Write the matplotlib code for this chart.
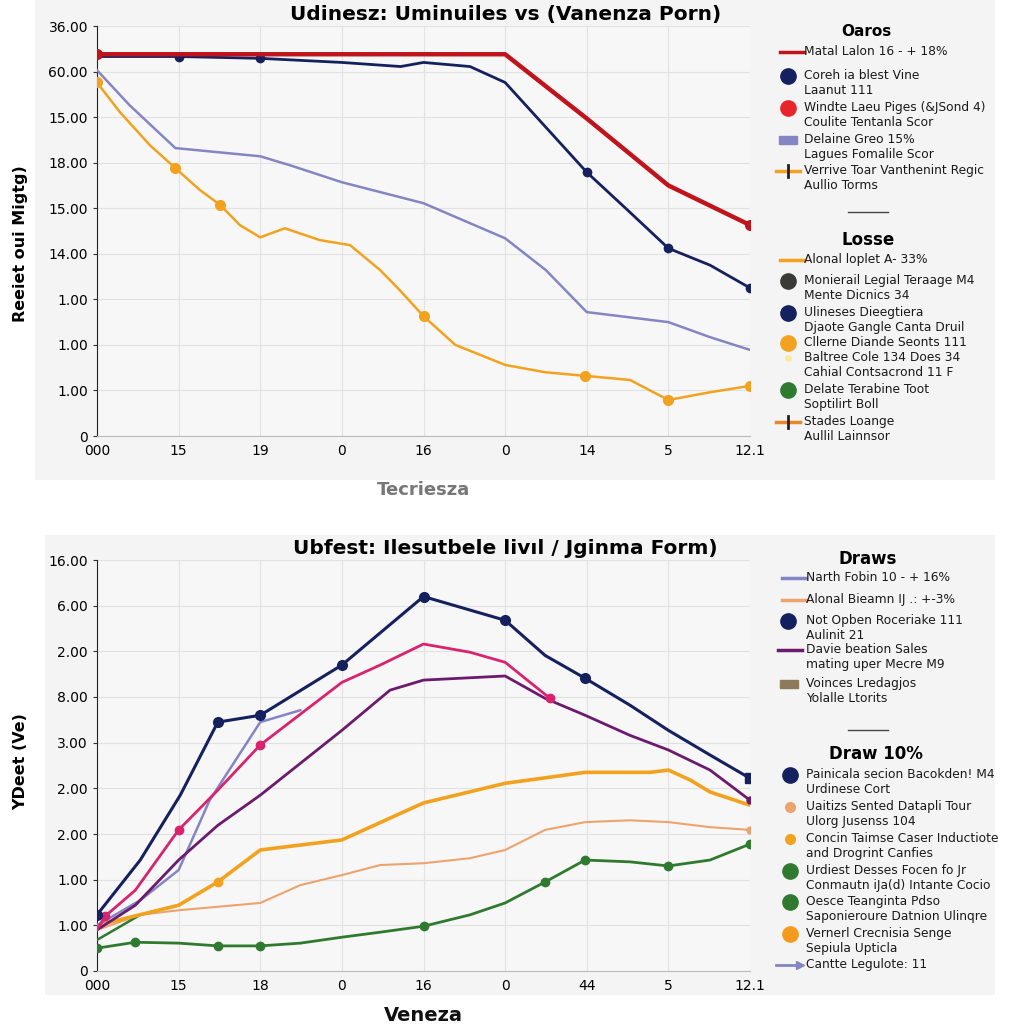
import matplotlib
matplotlib.use("Agg")
import matplotlib.pyplot as plt
from matplotlib.lines import Line2D
from matplotlib.patches import Rectangle

# ---- top panel data (positions on an index grid) ----
top_title = "Udinesz: Uminuiles vs (Vanenza Porn)"
top_xticks = ["000", "15", "19", "0", "16", "0", "14", "5", "12.1"]
top_yticks = ["0", "1.00", "1.00", "1.00", "14.00", "15.00", "18.00", "15.00", "60.00", "36.00"]
top_xlabel = "Tecriesza"
top_ylabel = "Reeiet oui Migtg)"

red_x = [0, 5, 6, 7, 8]
red_y = [8.38, 8.38, 6.97, 5.5, 4.63]
navy_x = [0, 1, 2, 3, 3.72, 4, 4.57, 5, 6, 6.5, 7, 7.51, 8]
navy_y = [8.33, 8.33, 8.29, 8.2, 8.11, 8.2, 8.11, 7.76, 5.79, 4.96, 4.12, 3.75, 3.25]
lav_x = [0, 0.4, 0.96, 2, 2.37, 3, 4, 5, 5.5, 6, 7, 7.51, 8]
lav_y = [8.03, 7.26, 6.32, 6.14, 5.94, 5.57, 5.11, 4.34, 3.64, 2.72, 2.5, 2.17, 1.89]
org_x = [0, 0.28, 0.65, 0.96, 1.26, 1.51, 1.75, 2.0, 2.3, 2.73, 3.1, 3.47, 3.71,
         4.0, 4.39, 5.0, 5.49, 5.98, 6.29, 6.53, 7.0, 7.51, 8.0]
org_y = [7.76, 7.11, 6.38, 5.88, 5.4, 5.07, 4.63, 4.36, 4.56, 4.3, 4.19, 3.64, 3.2,
         2.63, 2.0, 1.56, 1.4, 1.32, 1.27, 1.23, 0.79, 0.96, 1.1]

# ---- bottom panel data ----
bot_title = "Ubfest: Ilesutbele livıl / Jginma Form)"
bot_xticks = ["000", "15", "18", "0", "16", "0", "44", "5", "12.1"]
bot_yticks = ["0", "1.00", "1.00", "2.00", "2.00", "3.00", "8.00", "2.00", "6.00", "16.00"]
bot_xlabel = "Veneza"
bot_ylabel = "YDeet (Ve)"

bnavy_x = [0, 0.53, 1.02, 1.48, 2, 3, 4, 5, 5.49, 5.98, 6.53, 7, 7.51, 8]
bnavy_y = [1.23, 2.43, 3.85, 5.45, 5.6, 6.7, 8.2, 7.68, 6.91, 6.41, 5.82, 5.27, 4.73, 4.22]
mag_x = [0, 0.1, 0.47, 1, 1.48, 2, 3, 3.47, 4, 4.57, 5, 5.55]
mag_y = [0.9, 1.2, 1.77, 3.09, 3.96, 4.95, 6.32, 6.7, 7.16, 6.98, 6.76, 5.97]
pur_x = [0, 0.47, 1, 1.48, 2, 3, 3.59, 4, 5, 5.49, 5.98, 6.53, 7, 7.51, 8]
pur_y = [0.9, 1.44, 2.43, 3.19, 3.85, 5.27, 6.15, 6.37, 6.46, 5.97, 5.6, 5.16, 4.84, 4.4, 3.74]
blav_x = [0, 0.53, 1, 1.38, 2, 2.49]
blav_y = [1.0, 1.55, 2.21, 3.74, 5.45, 5.71]
borg_x = [0, 1, 1.48, 2, 3, 4, 5, 5.98, 6.78, 7, 7.27, 7.51, 8]
borg_y = [1.0, 1.44, 1.95, 2.65, 2.87, 3.68, 4.11, 4.35, 4.35, 4.4, 4.18, 3.92, 3.63]
lorg_x = [0, 0.53, 1, 2, 2.49, 3, 3.47, 4, 4.57, 5, 5.49, 5.98, 6.53, 7, 7.51, 8]
lorg_y = [0.9, 1.23, 1.33, 1.49, 1.88, 2.1, 2.32, 2.36, 2.47, 2.65, 3.09, 3.26, 3.3, 3.26, 3.15, 3.09]
grn_x = [0, 0.47, 1, 1.48, 2, 2.49, 3, 3.47, 4, 4.57, 5, 5.49, 5.98, 6.53, 7, 7.51, 8]
grn_y = [0.5, 0.63, 0.61, 0.55, 0.55, 0.61, 0.74, 0.85, 0.98, 1.23, 1.49, 1.95, 2.43, 2.39, 2.3, 2.43, 2.78]
grn2_x = [0, 0.53, 1]
grn2_y = [0.68, 1.23, 1.44]

# ---- legend texts ----
top_head1 = "Oaros"
top_items1 = ["Matal Lalon 16 - + 18%",
              "Coreh ia blest Vine\nLaanut 111",
              "Windte Laeu Piges (&JSond 4)\nCoulite Tentanla Scor",
              "Delaine Greo 15%\nLagues Fomalile Scor",
              "Verrive Toar Vanthenint Regic\nAullio Torms"]
top_head2 = "Losse"
top_items2 = ["Alonal loplet A- 33%",
              "Monierail Legial Teraage M4\nMente Dicnics 34",
              "Ulineses Dieegtiera\nDjaote Gangle Canta Druil",
              "Cllerne Diande Seonts 111\nBaltree Cole 134 Does 34\nCahial Contsacrond 11 F",
              "Delate Terabine Toot\nSoptilirt Boll",
              "Stades Loange\nAullil Lainnsor"]
bot_head1 = "Draws"
bot_items1 = ["Narth Fobin 10 - + 16%",
              "Alonal Bieamn IJ .: +-3%",
              "Not Opben Roceriake 111\nAulinit 21",
              "Davie beation Sales\nmating uper Mecre M9",
              "Voinces Lredagjos\nYolalle Ltorits"]
bot_head2 = "Draw 10%"
bot_items2 = ["Painicala secion Bacokden! M4\nUrdinese Cort",
              "Uaitizs Sented Datapli Tour\nUlorg Jusenss 104",
              "Concin Taimse Caser Inductiote\nand Drogrint Canfies",
              "Urdiest Desses Focen fo Jr\nConmautn iJa(d) Intante Cocio",
              "Oesce Teanginta Pdso\nSaponieroure Datnion Ulinqre",
              "Vernerl Crecnisia Senge\nSepiula Upticla",
              "Cantte Legulote: 11"]

NAVY = "#14215e"
RED = "#c0141c"
LAV = "#8585c4"
ORG = "#f2a21e"
MAG = "#d8246e"
PUR = "#6b1a6e"
LORG = "#eda36e"
GRN = "#2f7a2f"

W = H = 1024
fig = plt.figure(figsize=(10.24, 10.24), dpi=100)
fig.patch.set_facecolor("white")
TITLE_FONT = ["Liberation Sans Narrow", "DejaVu Sans"]


def px(x, y):
    return x / W, 1 - y / H


# panel backgrounds
fig.add_artist(Rectangle(px(35, 480), 960 / W, 480 / H, transform=fig.transFigure,
                         facecolor="#f4f4f4", edgecolor="none", zorder=0))
fig.add_artist(Rectangle(px(45, 995), 950 / W, 460 / H, transform=fig.transFigure,
                         facecolor="#f4f4f4", edgecolor="none", zorder=0))


def setup_axes(ax, xt, yt, title, xlabel, ylabel, xlabel_style):
    ax.set_facecolor("#f7f7f7")
    ax.set_xlim(0, 8)
    ax.set_ylim(0, 9)
    ax.set_xticks(range(9))
    ax.set_xticklabels(xt)
    ax.set_yticks(range(10))
    ax.set_yticklabels(yt)
    ax.tick_params(axis="both", labelsize=10, length=3, color="#333333")
    ax.tick_params(axis="x", length=0, pad=6)
    for s in ["top", "right"]:
        ax.spines[s].set_visible(False)
    ax.spines["left"].set_color("#222222")
    ax.spines["bottom"].set_color("#bbbbbb")
    ax.grid(True, color="#e2e2e2", linewidth=0.8)
    ax.set_axisbelow(True)
    ax.set_title(title, fontsize=14.5, fontweight="bold", family=TITLE_FONT, pad=4, x=0.625)
    ax.set_ylabel(ylabel, fontsize=11.5, fontweight="bold")
    ax.set_xlabel(xlabel, **xlabel_style)


# ---- top axes ----
ax1 = fig.add_axes([97 / W, 1 - 436 / H, 653 / W, 410 / H])
setup_axes(ax1, top_xticks, top_yticks, top_title, top_xlabel, top_ylabel,
           dict(fontsize=13, color="#777777", fontweight="bold", labelpad=16))
ax1.yaxis.set_label_coords(-0.105, 0.47)
ax1.plot(lav_x, lav_y, color=LAV, lw=1.8, zorder=3)
ax1.plot(org_x, org_y, color=ORG, lw=1.8, marker="o", ms=7,
         markevery=[0, 3, 5, 13, 17, 20, 22], zorder=4)
ax1.plot(navy_x, navy_y, color=NAVY, lw=2.0, marker="o", ms=6,
         markevery=[1, 2, 8, 10, 12], zorder=5)
ax1.plot(red_x, red_y, color=RED, lw=3.2, marker="o", ms=7, markevery=[0, 4], zorder=6)

# ---- bottom axes ----
ax2 = fig.add_axes([97 / W, 1 - 971 / H, 653 / W, 411 / H])
setup_axes(ax2, bot_xticks, bot_yticks, bot_title, bot_xlabel, bot_ylabel,
           dict(fontsize=14, color="#111111", fontweight="bold", labelpad=9))
ax2.yaxis.set_label_coords(-0.105, 0.51)
ax2.plot(lorg_x, lorg_y, color=LORG, lw=1.5, marker="o", ms=5, markevery=[15], zorder=3)
ax2.plot(grn2_x, grn2_y, color=GRN, lw=1.8, zorder=3)
ax2.plot(grn_x, grn_y, color=GRN, lw=2.0, marker="o", ms=6,
         markevery=[0, 1, 3, 4, 8, 11, 12, 14, 16], zorder=4)
ax2.plot(borg_x, borg_y, color=ORG, lw=2.6, marker="o", ms=6, markevery=[2], zorder=4)
ax2.plot(blav_x, blav_y, color=LAV, lw=1.8, zorder=4)
ax2.plot(pur_x, pur_y, color=PUR, lw=2.0, marker="o", ms=5, markevery=[14], zorder=5)
ax2.plot(mag_x, mag_y, color=MAG, lw=2.0, marker="o", ms=6, markevery=[1, 3, 5, 11], zorder=5)
ax2.plot(bnavy_x, bnavy_y, color=NAVY, lw=2.2, marker="o", ms=7,
         markevery=[0, 3, 4, 5, 6, 7, 9], zorder=6)
ax2.plot([bnavy_x[-1]], [bnavy_y[-1]], color=NAVY, marker="s", ms=7, zorder=7)


# ---- manual legends ----
def handle(kind, color, x, y):
    fx, fy = px(x, y)
    if kind == "line":
        fig.add_artist(Line2D([fx - 12 / W, fx + 12 / W], [fy, fy], color=color, lw=2.5,
                              transform=fig.transFigure))
    elif kind == "cross":
        fig.add_artist(Line2D([fx - 12 / W, fx + 12 / W], [fy, fy], color=color, lw=2.5,
                              transform=fig.transFigure))
        fig.add_artist(Line2D([fx, fx], [fy - 6 / H, fy + 6 / H], color="#222222", lw=2,
                              transform=fig.transFigure))
    elif kind == "rect":
        fig.add_artist(Rectangle((fx - 9 / W, fy - 4 / H), 18 / W, 8 / H, color=color,
                                 transform=fig.transFigure))
    elif kind == "arrow":
        fig.add_artist(Line2D([fx - 14 / W, fx + 10 / W], [fy, fy], color=color, lw=2,
                              marker=">", markevery=[1], ms=6, transform=fig.transFigure))
    else:
        ms = {"dot": 11, "small": 7}[kind]
        fig.add_artist(Line2D([fx], [fy], color=color, marker="o", ms=ms, lw=0,
                              transform=fig.transFigure))


def legend_block(head, hx, hy, items, handles, ys, tx, head_size=11):
    fig.text(hx / W, 1 - hy / H, head, fontsize=head_size, fontweight="bold",
             ha="center", va="center")
    for label, (kind, color, hxp), y in zip(items, handles, ys):
        handle(kind, color, hxp, y)
        fig.text(tx / W, 1 - (y - 7) / H, label, fontsize=8.8, va="top", ha="left",
                 linespacing=1.2, color="#1a1a1a")


top_handles1 = [("line", RED, 792), ("dot", NAVY, 788), ("dot", "#e8262a", 788),
                ("rect", LAV, 788), ("cross", ORG, 788)]
legend_block(top_head1, 866, 32, top_items1, top_handles1, [52, 76, 108, 140, 171], 804)
fig.add_artist(Line2D([848 / W, 888 / W], [1 - 212 / H] * 2, color="#444444", lw=1,
                      transform=fig.transFigure))
top_handles2 = [("line", ORG, 792), ("dot", "#3a3a36", 788), ("dot", NAVY, 788),
                ("dot", ORG, 788), ("dot", GRN, 788), ("cross", "#e8862a", 788)]
legend_block(top_head2, 868, 240, top_items2, top_handles2,
             [260, 281, 313, 343, 390, 422], 804, head_size=12)
fig.add_artist(Line2D([788 / W], [1 - 358 / H], color="#fbe9a0", marker="o", ms=4, lw=0,
                      transform=fig.transFigure))

bot_handles1 = [("line", LAV, 794), ("line", LORG, 794), ("dot", NAVY, 788),
                ("line", PUR, 790), ("rect", "#8c7a5a", 789)]
legend_block(bot_head1, 868, 559, bot_items1, bot_handles1,
             [578, 600, 621, 650, 684], 806, head_size=12)
fig.add_artist(Line2D([848 / W, 888 / W], [1 - 730 / H] * 2, color="#444444", lw=1,
                      transform=fig.transFigure))
bot_handles2 = [("dot", NAVY, 790), ("small", LORG, 790), ("small", ORG, 790),
                ("dot", GRN, 790), ("dot", GRN, 790), ("dot", "#f49a1e", 790),
                ("arrow", LAV, 790)]
legend_block(bot_head2, 876, 754, bot_items2, bot_handles2,
             [775, 807, 839, 871, 902, 934, 965], 806, head_size=12)

fig.savefig("out.png", dpi=100)
